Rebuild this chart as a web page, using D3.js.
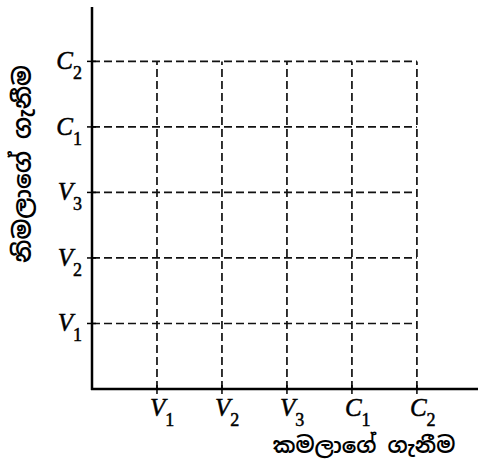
<!DOCTYPE html>
<html>
<head>
<meta charset="utf-8">
<script src="https://cdn.jsdelivr.net/npm/d3@7"></script>
<style>
  body { margin: 0; background: #fff; }
  svg { display: block; }
</style>
</head>
<body>
<svg id="chart" width="478" height="461"></svg>
<script>
// levels along each axis (position 1..5)
const levels = [1, 2, 3, 4, 5];
const tickLetters = ["V", "V", "V", "C", "C"];
const tickSubs = ["1", "2", "3", "1", "2"];
const xTitle = "කමලාගේ ගැනීම";
const yTitle = "නිමලාගේ ගැනීම";

const svg = d3.select('#chart');
const serif = '"Liberation Serif", "Times New Roman", serif';
const sinhala = '"Noto Sans Sinhala", "Noto Serif Sinhala", sans-serif';

const x = d3.scaleLinear().domain([0, 5.94]).range([92, 478]);
const y = d3.scaleLinear().domain([0, 5.83]).range([389, 7]);

const maxLevel = d3.max(levels);

// dashed grid
{
  let g = svg.append('g')
    .attr('fill', 'none')
    .attr('stroke', '#111')
    .attr('stroke-width', 1.7)
    .attr('stroke-dasharray', '8,4');
  g.selectAll('line.h').data(levels).enter().append('line')
    .attr('class', 'h')
    .attr('x1', x(0)).attr('x2', x(maxLevel))
    .attr('y1', d => y(d)).attr('y2', d => y(d));
  g.selectAll('line.v').data(levels).enter().append('line')
    .attr('class', 'v')
    .attr('x1', d => x(d)).attr('x2', d => x(d))
    .attr('y1', y(0)).attr('y2', y(maxLevel));
}

// axes
{
  let g = svg.append('g').attr('stroke', '#000').attr('stroke-width', 2.5);
  g.append('line').attr('x1', x(0)).attr('x2', x(0)).attr('y1', y(0) + 1).attr('y2', y(5.83));
  g.append('line').attr('x1', x(0) - 1).attr('x2', x(5.94)).attr('y1', y(0)).attr('y2', y(0));
  // small cross ticks
  g.selectAll('line.ty').data(levels).enter().append('line')
    .attr('class', 'ty')
    .attr('stroke-width', 1.5)
    .attr('x1', x(0) - 5).attr('x2', x(0) + 4)
    .attr('y1', d => y(d)).attr('y2', d => y(d));
  g.selectAll('line.tx').data(levels).enter().append('line')
    .attr('class', 'tx')
    .attr('stroke-width', 1.5)
    .attr('x1', d => x(d)).attr('x2', d => x(d))
    .attr('y1', y(0) - 4).attr('y2', y(0) + 5);
}

// tick labels
function label(sel) {
  sel.attr('font-family', serif)
    .attr('fill', '#000')
    .attr('stroke', '#000')
    .attr('stroke-width', 0.5);
  sel.append('tspan')
    .attr('font-style', 'italic')
    .attr('font-size', 25)
    .text((d, i) => tickLetters[i]);
  sel.append('tspan')
    .attr('font-size', 18)
    .attr('dy', 10)
    .text((d, i) => tickSubs[i]);
}

svg.append('g').selectAll('text').data(levels).enter().append('text')
  .attr('x', d => x(d) - 7)
  .attr('y', y(0) + 27)
  .call(label);

svg.append('g').selectAll('text').data(levels).enter().append('text')
  .attr('text-anchor', 'end')
  .attr('x', x(0) - 10)
  .attr('y', d => y(d) + 8)
  .call(label);

// axis titles
svg.append('text')
  .attr('x', 364).attr('y', 453)
  .attr('text-anchor', 'middle')
  .attr('font-size', 22)
  .attr('font-weight', 600)
  .attr('font-family', sinhala)
  .text(xTitle);

svg.append('text')
  .attr('transform', 'translate(31,164) rotate(-90)')
  .attr('text-anchor', 'middle')
  .attr('font-size', 24)
  .attr('font-weight', 600)
  .attr('font-family', sinhala)
  .text(yTitle);
</script>
</body>
</html>
